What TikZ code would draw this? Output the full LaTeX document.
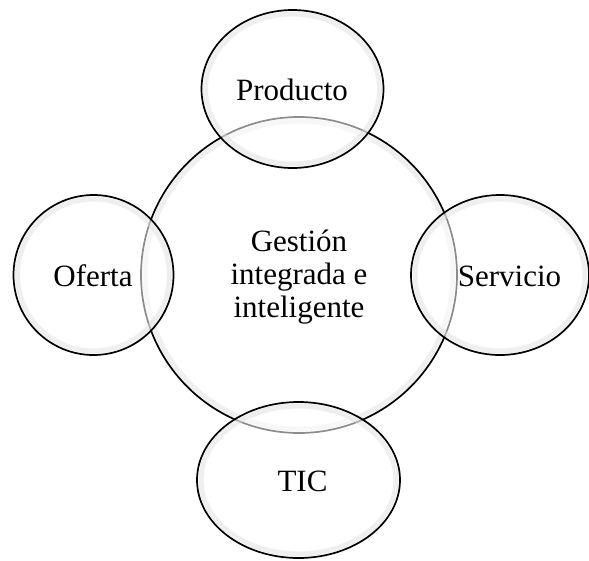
\documentclass[tikz,border=0pt]{standalone}
\usepackage{fontspec}
\setmainfont{Liberation Serif}
\usetikzlibrary{shapes.geometric}
\tikzset{
  bubble/.style={ellipse, inner sep=0pt, outer sep=0pt, draw=black, line width=1.7pt,
    fill=white, fill opacity=0.55, draw opacity=1},
  glow/.style={ellipse, inner sep=0pt, outer sep=0pt, draw=black!30, line width=5pt, draw opacity=0.45},
  lbl/.style={inner sep=0pt, anchor=base, align=center, font=\fontsize{31}{33}\selectfont}
}
\begin{document}
\begin{tikzpicture}[x=1pt,y=-1pt]
\useasboundingbox (0,0) rectangle (589,560);
% central
\node[glow, minimum width=308pt, minimum height=308pt] (cg) at (299,275) {};
\node[bubble, minimum width=316pt, minimum height=316pt] (c) at (299,275) {};
% satellites
\node[glow, minimum width=174pt, minimum height=150pt] (pg) at (292.5,89) {};
\node[bubble, minimum width=182pt, minimum height=158pt] (p) at (292.5,89) {};
\node[glow, minimum width=152pt, minimum height=152pt] (og) at (93.5,275) {};
\node[bubble, minimum width=160pt, minimum height=160pt] (o) at (93.5,275) {};
\node[glow, minimum width=170pt, minimum height=152pt] (sg) at (500,275) {};
\node[bubble, minimum width=178pt, minimum height=160pt] (s) at (500,275) {};
\node[glow, minimum width=195pt, minimum height=148pt] (tg) at (298.5,480) {};
\node[bubble, minimum width=203pt, minimum height=156pt] (t) at (298.5,480) {};
% labels
\node[lbl] (pl) at (292,100) {Producto};
\node[lbl] (ol) at (93,286) {Oferta};
\node[lbl] (sl) at (509.5,286) {Servicio};
\node[lbl] (tl) at (302.5,491) {TIC};
\node[lbl] (cl) at (299,317) {Gestión\\integrada e\\inteligente};
\end{tikzpicture}
\end{document}
